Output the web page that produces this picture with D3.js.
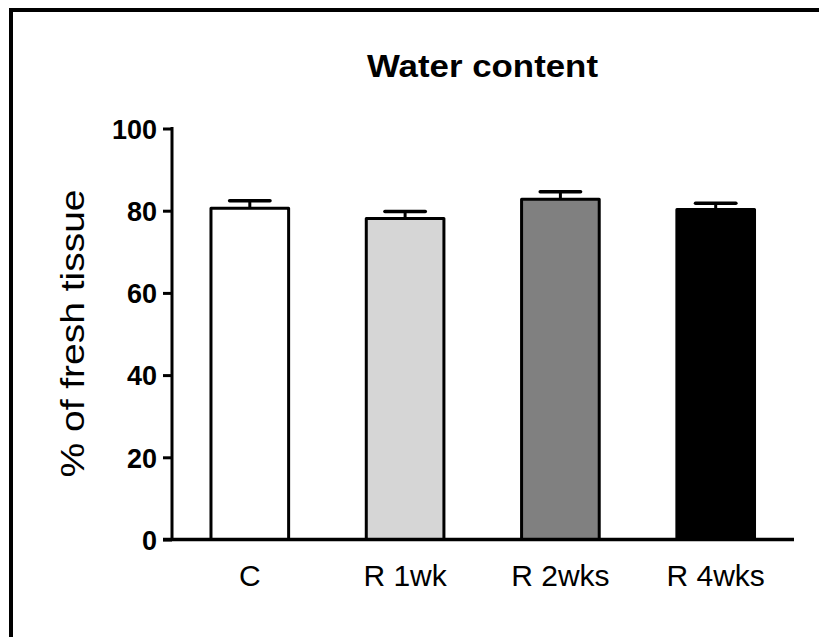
<!DOCTYPE html>
<html>
<head>
<meta charset="utf-8">
<script src="https://cdn.jsdelivr.net/npm/d3@7"></script>
<style>
  html, body { margin: 0; padding: 0; background: #fff; }
  svg { display: block; font-family: "Liberation Sans", Arial, sans-serif; }
</style>
</head>
<body>
<svg id="chart" width="819" height="637"></svg>
<script>
const categories = ["C", "R 1wk", "R 2wks", "R 4wks"];
const values = [80.6, 78.1, 82.8, 80.3];
const errors = [1.8, 1.7, 1.8, 1.5];
const fills = ["#ffffff", "#d6d6d6", "#808080", "#000000"];
const yTicks = [0, 20, 40, 60, 80, 100];
const title = "Water content";
const yLabel = "% of fresh tissue";

const svg = d3.select("#chart");

// frame (top and left edges)
svg.append("path")
  .attr("d", "M11,637 L11,10 L819,10")
  .attr("fill", "none").attr("stroke", "#000").attr("stroke-width", 4);

const x = d3.scaleBand().domain(categories).range([172, 793.5])
  .paddingInner(0.5).paddingOuter(0.251);
const y = d3.scaleLinear().domain([0, 100]).range([539.5, 128.5]);

// title
svg.append("text")
  .attr("x", 482.5).attr("y", 77)
  .attr("text-anchor", "middle")
  .attr("font-weight", "bold").attr("font-size", 32)
  .attr("textLength", 231).attr("lengthAdjust", "spacingAndGlyphs")
  .text(title);

// y label
svg.append("text")
  .attr("transform", "translate(84,333.5) rotate(-90)")
  .attr("text-anchor", "middle")
  .attr("font-size", 34)
  .attr("textLength", 288).attr("lengthAdjust", "spacingAndGlyphs")
  .text(yLabel);

// bars
const g = svg.append("g");
g.selectAll("rect.bar").data(categories).join("rect")
  .attr("class", "bar")
  .attr("x", d => x(d))
  .attr("y", (d, i) => y(values[i]))
  .attr("width", x.bandwidth())
  .attr("height", (d, i) => y(0) - y(values[i]))
  .attr("fill", (d, i) => fills[i])
  .attr("stroke", "#000").attr("stroke-width", 3)
  .attr("stroke-linejoin", "round");

// error bars
const capHalf = x.bandwidth() * 0.26;
const eb = g.selectAll("g.err").data(categories).join("g").attr("class", "err");
eb.append("line")
  .attr("x1", d => x(d) + x.bandwidth() / 2)
  .attr("x2", d => x(d) + x.bandwidth() / 2)
  .attr("y1", (d, i) => y(values[i]))
  .attr("y2", (d, i) => y(values[i] + errors[i]))
  .attr("stroke", "#000").attr("stroke-width", 3);
eb.append("line")
  .attr("x1", d => x(d) + x.bandwidth() / 2 - capHalf)
  .attr("x2", d => x(d) + x.bandwidth() / 2 + capHalf)
  .attr("y1", (d, i) => y(values[i] + errors[i]))
  .attr("y2", (d, i) => y(values[i] + errors[i]))
  .attr("stroke", "#000").attr("stroke-width", 3.5)
  .attr("stroke-linecap", "round");

// y axis
const yAxis = d3.axisLeft(y).tickValues(yTicks).tickSize(9).tickPadding(6).tickSizeOuter(0);
const ya = svg.append("g").attr("transform", "translate(172,0)").call(yAxis);
ya.select(".domain").attr("stroke", "#000").attr("stroke-width", 3)
  .attr("d", `M0,${y(100) - 1.5}V${y(0) + 1.5}`);
ya.selectAll(".tick line").attr("stroke", "#000").attr("stroke-width", 3);
ya.selectAll(".tick text")
  .attr("font-family", "'Liberation Sans', Arial, sans-serif")
  .attr("font-size", 27).attr("font-weight", "bold").attr("fill", "#000")
  .attr("dy", "0.36em");

// x axis
const xAxis = d3.axisBottom(x).tickSize(0).tickPadding(25);
const xa = svg.append("g").attr("transform", `translate(0,${y(0)})`).call(xAxis);
xa.select(".domain").attr("stroke", "#000").attr("stroke-width", 3.5)
  .attr("d", `M163,0H794`);
xa.selectAll(".tick text")
  .attr("font-family", "'Liberation Sans', Arial, sans-serif")
  .attr("font-size", 30).attr("fill", "#000")
  .attr("dy", "0.71em");
</script>
</body>
</html>
